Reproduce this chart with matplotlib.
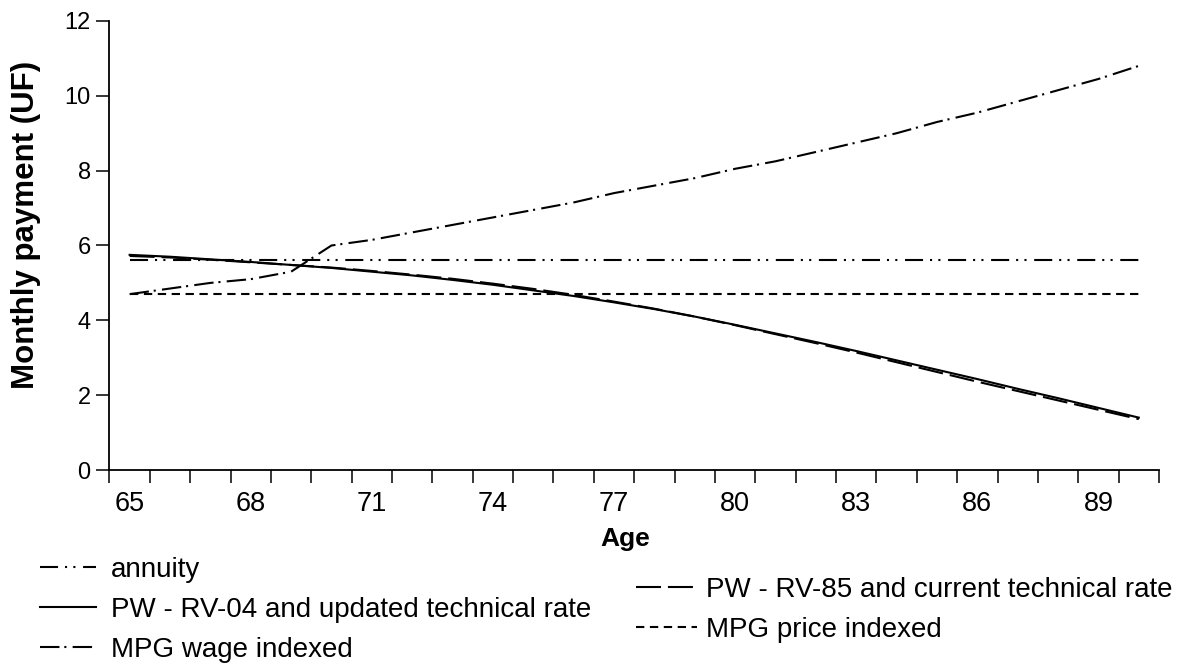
import matplotlib
matplotlib.use("Agg")
import matplotlib.pyplot as plt
import numpy as np

plt.rcParams['font.family'] = ['Liberation Sans', 'DejaVu Sans']
plt.rcParams['lines.scale_dashes'] = False

ages = list(range(65, 91))
annuity = [5.6] * 26
pw_rv04 = [5.75, 5.70, 5.63, 5.56, 5.48, 5.40, 5.30, 5.20, 5.08, 4.95,
           4.80, 4.65, 4.48, 4.30, 4.10, 3.88, 3.65, 3.42, 3.18, 2.93,
           2.68, 2.43, 2.17, 1.92, 1.66, 1.40]
pw_rv85 = [5.72, 5.68, 5.62, 5.55, 5.48, 5.41, 5.32, 5.22, 5.11, 4.98,
           4.84, 4.68, 4.50, 4.31, 4.10, 3.87, 3.63, 3.39, 3.14, 2.88,
           2.62, 2.36, 2.11, 1.86, 1.61, 1.36]
mpg_wage = [4.70, 4.85, 5.00, 5.10, 5.30, 6.00, 6.15, 6.35, 6.55, 6.75,
            6.95, 7.15, 7.40, 7.60, 7.80, 8.05, 8.25, 8.50, 8.75, 9.00,
            9.30, 9.55, 9.85, 10.15, 10.45, 10.80]
mpg_price = [4.7] * 26

labels_shown = [65, 68, 71, 74, 77, 80, 83, 86, 89]

fig = plt.figure(figsize=(11.87, 6.68), dpi=100)
ax = fig.add_axes([0.0922, 0.2964, 0.8842, 0.6722])

x = np.arange(len(ages))
lw = 1.5
l_ann, = ax.plot(x, annuity, color='black', lw=lw, linestyle=(0, (13, 5, 1.5, 4.5, 1.5, 5.5)), label='annuity')
l_85, = ax.plot(x, pw_rv85, color='black', lw=lw, linestyle=(0, (18, 5)), label='PW - RV-85 and current technical rate')
l_04, = ax.plot(x, pw_rv04, color='black', lw=lw, linestyle='-', label='PW - RV-04 and updated technical rate')
l_wage, = ax.plot(x, mpg_wage, color='black', lw=lw, linestyle=(0, (14, 3.5, 1.5, 4.5)), label='MPG wage indexed')
l_price, = ax.plot(x, mpg_price, color='black', lw=lw, linestyle=(0, (6, 4)), label='MPG price indexed')

ax.set_xlim(-0.5, len(ages) - 0.5)
ax.set_ylim(0, 12)
ax.set_yticks(range(0, 13, 2))
ax.set_xticks(np.arange(-0.5, len(ages), 1.0))
ax.set_xticklabels([])
ax.set_xticks([ages.index(a) for a in labels_shown], minor=True)
ax.set_xticklabels([str(a) for a in labels_shown], minor=True)

for s in ['top', 'right']:
    ax.spines[s].set_visible(False)
for s in ['left', 'bottom']:
    ax.spines[s].set_linewidth(1.3)

ax.tick_params(axis='x', which='major', direction='out', length=9.5, width=1.1)
ax.tick_params(axis='x', which='minor', length=0, pad=15, labelsize=19.5)
ax.tick_params(axis='y', which='major', direction='out', length=9.5, width=1.1, pad=4, labelsize=17)

ax.set_ylabel('Monthly payment (UF)', fontsize=22.5, fontweight='bold')
ax.yaxis.set_label_coords(-0.065, 0.546)
ax.set_xlabel('Age', fontsize=19, fontweight='bold')
ax.xaxis.set_label_coords(0.491, -0.127)

leg1 = fig.legend(handles=[l_ann, l_04, l_wage], loc='upper left',
                  bbox_to_anchor=(40 / 1187, 1 - 557 / 668), frameon=False,
                  fontsize=20, handlelength=2.0, handletextpad=0.54,
                  labelspacing=0.5, borderpad=0, borderaxespad=0)
leg2 = fig.legend(handles=[l_85, l_price], loc='upper left',
                  bbox_to_anchor=(636 / 1187, 1 - 577 / 668), frameon=False,
                  fontsize=20, handlelength=2.2, handletextpad=0.32,
                  labelspacing=0.5, borderpad=0, borderaxespad=0)

fig.savefig('out.png', dpi=100)
